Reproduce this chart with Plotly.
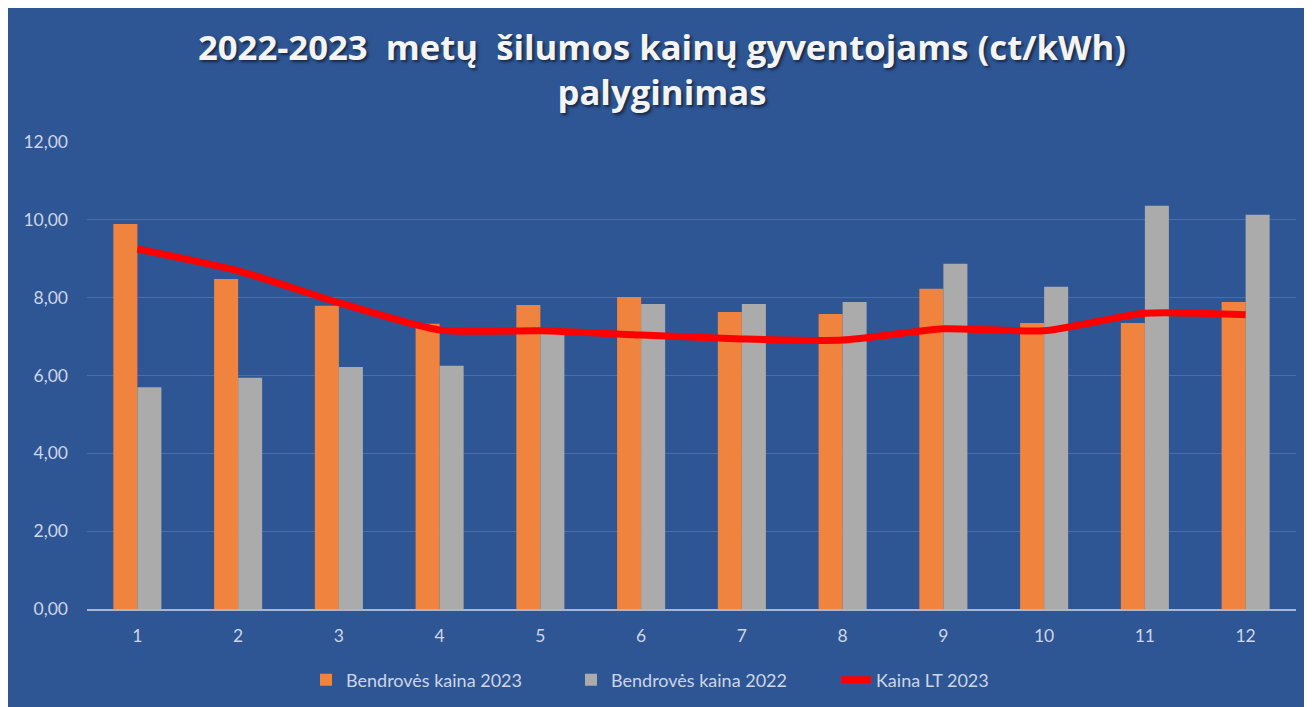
import plotly.graph_objects as go

months = ["1", "2", "3", "4", "5", "6", "7", "8", "9", "10", "11", "12"]
kaina_2023 = [9.89, 8.48, 7.79, 7.33, 7.81, 8.02, 7.63, 7.58, 8.23, 7.35, 7.35, 7.89]
kaina_2022 = [5.70, 5.94, 6.22, 6.25, 7.20, 7.84, 7.84, 7.89, 8.87, 8.28, 10.36, 10.13]
kaina_lt_2023 = [9.25, 8.69, 7.87, 7.17, 7.15, 7.04, 6.94, 6.91, 7.20, 7.15, 7.60, 7.56]
y_ticks = [0, 2, 4, 6, 8, 10, 12]

BG = "#2E5594"
TXT = "#CDD5E6"

fig = go.Figure()
fig.add_trace(go.Bar(x=months, y=kaina_2023, name="Bendrovės kaina 2023",
                     marker=dict(color="#F0843F", line=dict(width=0))))
fig.add_trace(go.Bar(x=months, y=kaina_2022, name="Bendrovės kaina 2022",
                     marker=dict(color="#ABABAB", line=dict(width=0))))
fig.add_trace(go.Scatter(x=months, y=kaina_lt_2023, name="Kaina LT 2023", mode="lines",
                         line=dict(color="#FF0000", width=7, shape="spline", smoothing=0.6)))

W, H = 1312, 707
OFF = 8  # page body margin
L, R, T, B = 87 - OFF, 1296 - OFF, 142 - OFF, 609 - OFF
pw, ph = R - L, B - T

def px2x(px):
    return (px - OFF - L) / pw

def py2y(py):
    return (B - (py - OFF)) / ph

fig.update_layout(
    width=W, height=H,
    margin=dict(l=L, r=W - R, t=T, b=H - B, pad=0, autoexpand=False),
    paper_bgcolor=BG, plot_bgcolor=BG,
    separators=", ",
    barmode="group", bargap=0.523, bargroupgap=0,
    font=dict(family="Lato, Roboto, sans-serif", color=TXT, size=17),
    title=dict(
        text="2022-2023  metų  šilumos kainų gyventojams (ct/kWh)<br>palyginimas",
        x=(662 - OFF) / W, xanchor="center", xref="container",
        y=1 - 52 / H, yanchor="top", yref="container",
        font=dict(family="Open Sans, sans-serif", size=34.7, color="#F4F4F4", weight="bold",
                  shadow="2px 2px 3px rgba(0,0,0,0.55)"),
    ),
    xaxis=dict(type="category", showgrid=False, showline=True, linecolor="#A9B6D2", linewidth=2,
               ticks="", tickfont=dict(size=17.5, color=TXT), ticklabelstandoff=10, fixedrange=True),
    yaxis=dict(range=[0, 12], tickvals=y_ticks, tickformat=".2f", showgrid=True,
               gridcolor="#4B6DA8", gridwidth=1, zeroline=False, showline=False,
               tickfont=dict(size=17.5, color=TXT), ticklabelstandoff=18, fixedrange=True),
    legend=dict(orientation="h", x=px2x(306), xanchor="left", xref="paper",
                y=py2y(680), yanchor="middle", yref="paper",
                font=dict(size=18, color=TXT), bgcolor="rgba(0,0,0,0)",
                itemwidth=30, tracegroupgap=0, entrywidth=220, entrywidthmode="pixels"),
    showlegend=True,
)

fig.write_html("out.html")
